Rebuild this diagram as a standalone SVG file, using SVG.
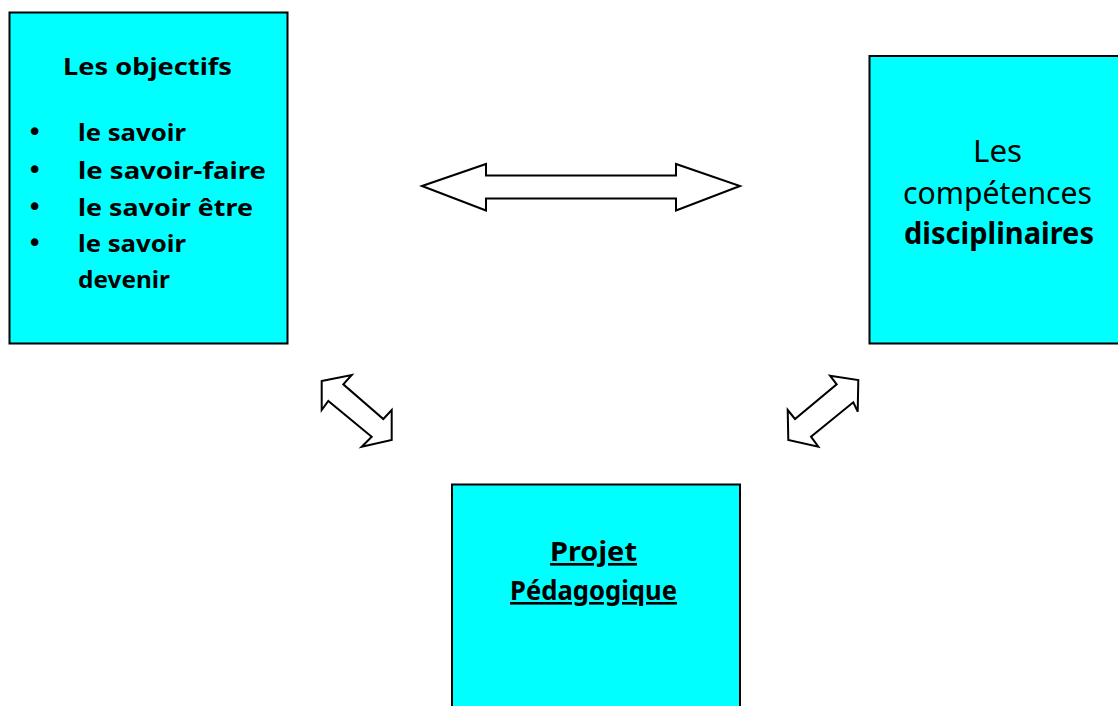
<svg xmlns="http://www.w3.org/2000/svg" width="1118" height="706" viewBox="0 0 1118 706">
<style>
.box{fill:#00FFFF;stroke:#000;stroke-width:2}
.arr{fill:#fff;stroke:#000;stroke-width:2;stroke-linejoin:miter}
.t{font-family:"Noto Sans","DejaVu Sans",sans-serif;fill:#000}
.b{font-weight:bold}
.bul{font-family:"DejaVu Sans",sans-serif;font-size:26px;fill:#000}
</style>
<rect width="1118" height="706" fill="#fff"/>
<g id="objectifs">
<rect class="box" x="9.5" y="12.5" width="278" height="331"/>
<text class="t b" x="63" y="75" font-size="24" textLength="169" lengthAdjust="spacingAndGlyphs">Les objectifs</text>
<text class="bul" x="27" y="141">•</text>
<text class="bul" x="27" y="179">•</text>
<text class="bul" x="27" y="216">•</text>
<text class="bul" x="27" y="252">•</text>
<text class="t b" x="78" y="141" font-size="24" textLength="108" lengthAdjust="spacingAndGlyphs">le savoir</text>
<text class="t b" x="78" y="179" font-size="24" textLength="188" lengthAdjust="spacingAndGlyphs">le savoir-faire</text>
<text class="t b" x="78" y="216" font-size="24" textLength="175" lengthAdjust="spacingAndGlyphs">le savoir être</text>
<text class="t b" x="78" y="252" font-size="24" textLength="108" lengthAdjust="spacingAndGlyphs">le savoir</text>
<text class="t b" x="78" y="288" font-size="24" textLength="92" lengthAdjust="spacingAndGlyphs">devenir</text>
</g>
<g id="competences">
<rect class="box" x="869.5" y="56" width="250" height="287.5"/>
<text class="t" x="973" y="162" font-size="31" textLength="49" lengthAdjust="spacingAndGlyphs">Les</text>
<text class="t" x="903" y="204" font-size="31" textLength="189" lengthAdjust="spacingAndGlyphs">compétences</text>
<text class="t b" x="904" y="244" font-size="30" textLength="190" lengthAdjust="spacingAndGlyphs">disciplinaires</text>
</g>
<g id="projet">
<rect class="box" x="452" y="484.5" width="288" height="240"/>
<text class="t b" x="550" y="561" font-size="26" text-decoration="underline" textLength="87" lengthAdjust="spacingAndGlyphs">Projet</text>
<text class="t b" x="510" y="600" font-size="26" text-decoration="underline" textLength="167" lengthAdjust="spacingAndGlyphs">Pédagogique</text>
</g>
<g id="connectors">
<polygon class="arr" points="422,186 486,164 486,175.5 676,175.5 676,164 740,186 676,210.5 676,198.5 486,198.5 486,210.5"/>
<polygon class="arr" points="321.7,381 351.7,375 343.3,384.3 383.3,419 391.7,410 391.7,440 361.7,446.7 371.7,436.7 328.3,401 321.7,410"/>
<polygon class="arr" points="830,375.7 858.3,380 857.7,411.7 853.3,402.3 811,436.7 818.3,446.7 788.3,440 787.7,410 795,419 836.7,384.3"/>
</g>
</svg>
